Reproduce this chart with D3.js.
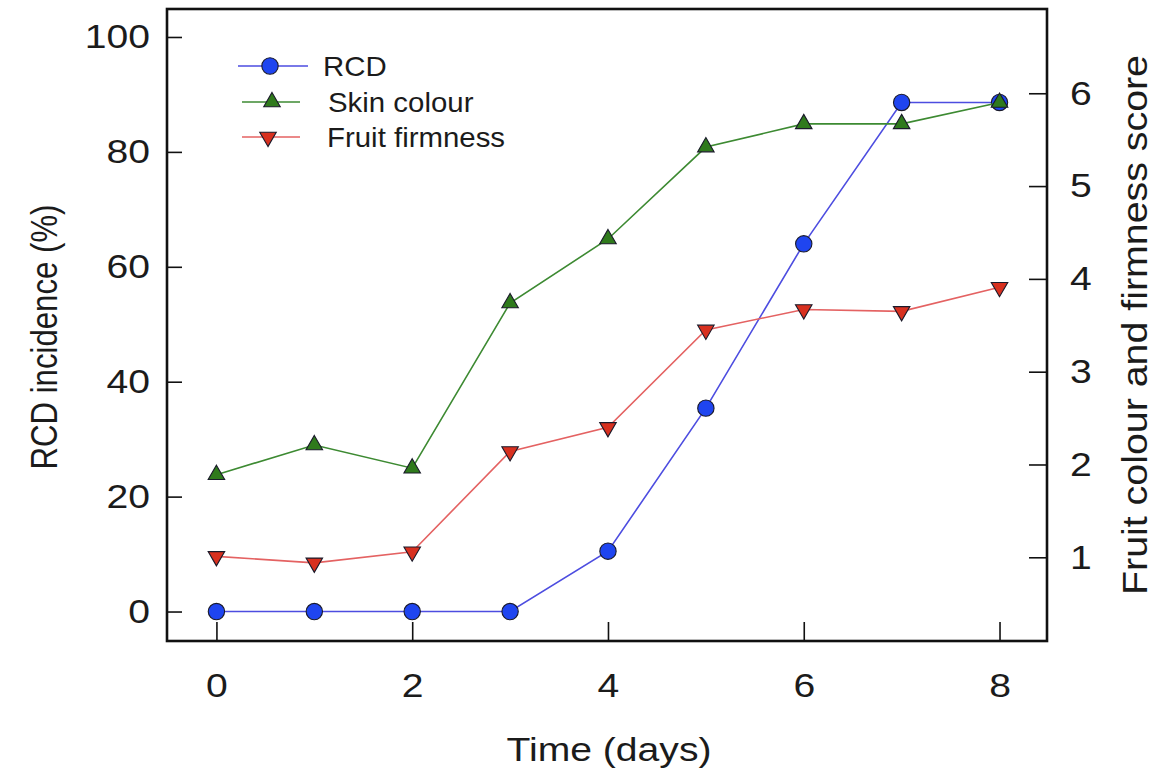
<!DOCTYPE html>
<html>
<head>
<meta charset="utf-8">
<script src="https://cdn.jsdelivr.net/npm/d3@7"></script>
<style>
  body { margin: 0; background: #fff; }
  text { font-family: "Liberation Sans", Arial, sans-serif; fill: #1b1b1b; }
</style>
</head>
<body>
<svg id="chart" width="1156" height="771"></svg>
<script>
// Days after harvest and the three measured responses
const days = [0, 1, 2, 3, 4, 5, 6, 7, 8];
const rcdIncidence = [0, 0, 0, 0, 10.5, 35.4, 64.0, 88.6, 88.6];      // %, left axis
const skinColour = [1.89, 2.21, 1.96, 3.74, 4.43, 5.42, 5.67, 5.67, 5.90]; // score, right axis
const fruitFirmness = [1.01, 0.94, 1.06, 2.14, 2.40, 3.45, 3.67, 3.65, 3.91]; // score, right axis

const xTicks = [0, 2, 4, 6, 8];
const leftTicks = [0, 20, 40, 60, 80, 100];
const rightTicks = [1, 2, 3, 4, 5, 6];

const seriesNames = ["RCD", "Skin colour", "Fruit firmness"];

const svg = d3.select("#chart");
const frame = { left: 167, right: 1047, top: 9, bottom: 641 };
const FONT = '"Liberation Sans", Arial, sans-serif';

const x = d3.scaleLinear().domain([-0.505, 8.485]).range([frame.left, frame.right]);
const yLeft = d3.scaleLinear().domain([-5.13, 104.87]).range([frame.bottom, frame.top]);
const yRight = d3.scaleLinear().domain([0.098, 6.908]).range([frame.bottom, frame.top]);

const series = [
  { name: seriesNames[0], values: rcdIncidence, y: yLeft, line: "#4d4de0", fill: "#1f45f0", shape: d3.symbolCircle, size: 210, rot: 0 },
  { name: seriesNames[1], values: skinColour, y: yRight, line: "#3d8a32", fill: "#2f7a1c", shape: d3.symbolTriangle, size: 118, rot: 0 },
  { name: seriesNames[2], values: fruitFirmness, y: yRight, line: "#e46262", fill: "#d8301f", shape: d3.symbolTriangle, size: 118, rot: 180 }
];

// Widen text glyphs horizontally (the figure's lettering is set slightly expanded)
function widen(sel, factor) {
  sel.each(function () {
    const len = this.getComputedTextLength();
    d3.select(this).attr("textLength", len * factor).attr("lengthAdjust", "spacingAndGlyphs");
  });
}

// Axes (ticks point into the plot)
const tickFont = 34;
const gx = svg.append("g").attr("transform", `translate(0,${frame.bottom})`)
  .call(d3.axisBottom(x).tickValues(xTicks).tickSize(-19).tickPadding(32).tickFormat(d3.format("d")));
const gl = svg.append("g").attr("transform", `translate(${frame.left},0)`)
  .call(d3.axisLeft(yLeft).tickValues(leftTicks).tickSize(-15).tickPadding(17).tickFormat(d3.format("d")));
const gr = svg.append("g").attr("transform", `translate(${frame.right},0)`)
  .call(d3.axisRight(yRight).tickValues(rightTicks).tickSize(-18).tickPadding(23).tickFormat(d3.format("d")));

[gx, gl, gr].forEach(g => {
  g.select(".domain").remove();
  g.selectAll(".tick line").attr("stroke", "#111").attr("stroke-width", 1.6);
  const t = g.selectAll(".tick text").attr("font-size", tickFont).attr("font-family", FONT).attr("fill", "#1b1b1b");
  widen(t, 1.15);
});

// Plot frame
svg.append("rect")
  .attr("x", frame.left).attr("y", frame.top)
  .attr("width", frame.right - frame.left).attr("height", frame.bottom - frame.top)
  .attr("fill", "none").attr("stroke", "#111").attr("stroke-width", 2.6);

// Lines and markers
series.forEach(s => {
  const line = d3.line().x((d, i) => x(days[i])).y(d => s.y(d));
  svg.append("path").datum(s.values)
    .attr("d", line).attr("fill", "none")
    .attr("stroke", s.line).attr("stroke-width", 1.6);
  svg.append("g").selectAll("path").data(s.values).join("path")
    .attr("d", d3.symbol().type(s.shape).size(s.size))
    .attr("transform", (d, i) => `translate(${x(days[i])},${s.y(d)}) rotate(${s.rot})`)
    .attr("fill", s.fill).attr("stroke", "#1a1a2a").attr("stroke-width", 1.1);
});

// Legend
const legend = svg.append("g");
const legendRows = [
  { lx1: 238, lx2: 308, mx: 270, y: 66, tx: 323 },
  { lx1: 242, lx2: 300, mx: 272, y: 102, tx: 328 },
  { lx1: 242, lx2: 300, mx: 268, y: 137, tx: 327 }
];
series.forEach((s, i) => {
  const r = legendRows[i];
  legend.append("line").attr("x1", r.lx1).attr("x2", r.lx2).attr("y1", r.y).attr("y2", r.y)
    .attr("stroke", s.line).attr("stroke-width", 1.6);
  legend.append("path")
    .attr("d", d3.symbol().type(s.shape).size(s.size))
    .attr("transform", `translate(${r.mx},${r.y}) rotate(${s.rot})`)
    .attr("fill", s.fill).attr("stroke", "#1a1a2a").attr("stroke-width", 1.1);
  const t = legend.append("text").attr("x", r.tx).attr("y", r.y).attr("dy", "0.36em")
    .attr("font-size", 28).text(s.name);
  widen(t, 1.05);
});

// Axis titles
const xTitle = svg.append("text").attr("x", (frame.left + frame.right) / 2 + 2).attr("y", 761)
  .attr("text-anchor", "middle").attr("font-size", 34).text("Time (days)");
widen(xTitle, 1.15);

svg.append("text").attr("transform", "translate(57,337) rotate(-90)")
  .attr("text-anchor", "middle").attr("font-size", 36)
  .attr("textLength", 265).attr("lengthAdjust", "spacingAndGlyphs")
  .text("RCD incidence (%)");

svg.append("text").attr("transform", "translate(1147,325) rotate(-90)")
  .attr("text-anchor", "middle").attr("font-size", 35)
  .attr("textLength", 540).attr("lengthAdjust", "spacingAndGlyphs")
  .text("Fruit colour and firmness score");
</script>
</body>
</html>
